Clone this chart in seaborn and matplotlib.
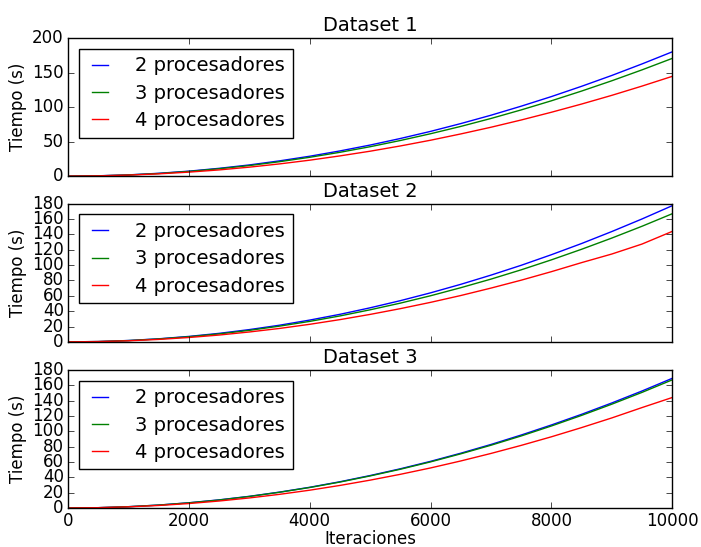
import matplotlib
matplotlib.use("Agg")
import matplotlib.pyplot as plt
import seaborn as sns
import numpy as np

# ===========================
# datos
# ===========================
iteraciones = [0, 500, 1000, 1500, 2000, 2500, 3000, 3500, 4000, 4500, 5000,
               5500, 6000, 6500, 7000, 7500, 8000, 8500, 9000, 9500, 10000]

etiquetas = ["2 procesadores", "3 procesadores", "4 procesadores"]
colores = ["b", "g", "r"]
titulos = ["Dataset 1", "Dataset 2", "Dataset 3"]

d1_p2 = [0, 0.5, 1.8, 4.1, 7.2, 11.3, 16.2, 22.1, 28.8, 36.5, 45.0,
         54.5, 64.8, 76.1, 88.2, 101.3, 115.2, 130.1, 145.8, 162.5, 180.0]
d1_p3 = [0, 0.4, 1.7, 3.8, 6.8, 10.7, 15.3, 20.9, 27.3, 34.5, 42.6,
         51.6, 61.4, 72.0, 83.5, 95.9, 109.1, 123.2, 138.1, 153.9, 170.5]
d1_p4 = [0, 0.4, 1.5, 3.3, 5.8, 9.0, 13.0, 17.7, 23.1, 29.3, 36.1,
         43.7, 52.0, 61.1, 70.8, 81.3, 92.5, 104.4, 117.0, 130.4, 144.5]

d2_p2 = [0, 0.4, 1.8, 4.0, 7.1, 11.1, 16.0, 21.7, 28.4, 35.9, 44.4,
         53.7, 63.9, 75.0, 87.0, 99.8, 113.6, 128.2, 143.8, 160.2, 177.5]
d2_p3 = [0, 0.4, 1.7, 3.8, 6.7, 10.4, 15.0, 20.5, 26.7, 33.8, 41.8,
         50.5, 60.1, 70.6, 81.8, 93.9, 106.9, 120.7, 135.3, 150.7, 167.0]
d2_p4 = [0, 0.4, 1.4, 3.2, 5.7, 8.9, 12.9, 17.5, 22.9, 29.0, 35.8,
         43.3, 51.5, 60.4, 70.1, 80.4, 91.5, 103.3, 114.5, 127.5, 144.0]

d3_p2 = [0, 0.4, 1.7, 3.8, 6.8, 10.6, 15.2, 20.7, 27.0, 34.2, 42.3,
         51.1, 60.8, 71.4, 82.8, 95.1, 108.2, 122.1, 136.9, 152.5, 169.0]
d3_p3 = [0, 0.4, 1.7, 3.8, 6.7, 10.4, 15.0, 20.5, 26.7, 33.8, 41.8,
         50.5, 60.1, 70.6, 81.8, 93.9, 106.9, 120.7, 135.3, 150.7, 167.0]
d3_p4 = [0, 0.4, 1.5, 3.3, 5.8, 9.1, 13.1, 17.8, 23.2, 29.4, 36.3,
         43.9, 52.2, 61.3, 71.1, 81.6, 92.8, 104.8, 117.4, 130.9, 144.0]

datasets = [[d1_p2, d1_p3, d1_p4], [d2_p2, d2_p3, d2_p4], [d3_p2, d3_p3, d3_p4]]
ylims = [(0, 200), (0, 180), (0, 180)]
yticks = [np.arange(0, 201, 50), np.arange(0, 181, 20), np.arange(0, 181, 20)]

# ===========================
# estilo clasico
# ===========================
plt.style.use("classic")
plt.rcParams["figure.facecolor"] = "white"
plt.rcParams["savefig.facecolor"] = "white"
plt.rcParams["font.family"] = ["DejaVu Sans"]
plt.rcParams["font.size"] = 12

fig = plt.figure(figsize=(7.01, 5.47), dpi=100)

posiciones = [[0.097, 0.678, 0.862, 0.2525],
              [0.097, 0.375, 0.862, 0.2525],
              [0.097, 0.0713, 0.862, 0.2525]]

for i, pos in enumerate(posiciones):
    ax = fig.add_axes(pos)
    for serie, etiqueta, color in zip(datasets[i], etiquetas, colores):
        sns.lineplot(x=iteraciones, y=serie, color=color, label=etiqueta,
                     linewidth=1.0, ax=ax)
    ax.set_xlim(0, 10000)
    ax.set_ylim(*ylims[i])
    ax.set_yticks(yticks[i])
    ax.set_xticks(np.arange(0, 10001, 2000))
    ax.tick_params(labelsize=12, pad=3)
    ax.set_title(titulos[i], fontsize=14, pad=5)
    ax.set_ylabel("Tiempo (s)", fontsize=12, labelpad=4)
    ax.legend(loc="upper left", fontsize=14, handlelength=1.4,
              handletextpad=1.1, labelspacing=0.42, borderpad=0.4,
              borderaxespad=0.55, fancybox=False, frameon=True)
    if i < 2:
        ax.set_xticklabels([])
        ax.set_xlabel("")
    else:
        ax.set_xlabel("Iteraciones", fontsize=12, labelpad=0)

fig.savefig("out.png", dpi=100)
